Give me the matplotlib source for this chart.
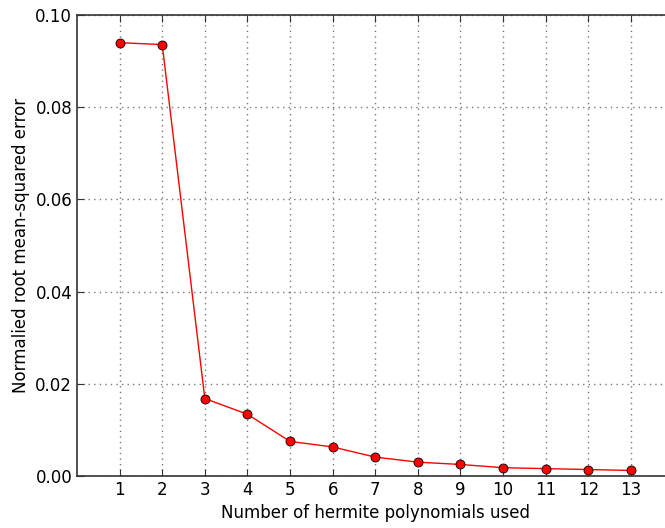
import numpy as np
import matplotlib
matplotlib.use('Agg')
import matplotlib.pyplot as plt

# rms error for increasing number of hermite terms
n_terms = [1, 2, 3, 4, 5, 6, 7, 8, 9, 10, 11, 12, 13]
rmse = [0.0940, 0.0936, 0.0168, 0.0134, 0.0075, 0.0063, 0.0041,
        0.0030, 0.0025, 0.0018, 0.0016, 0.0014, 0.0012]

fig = plt.figure(figsize=(6.65, 5.28), dpi=100)
ax = fig.add_axes([0.1158, 0.0985, 0.897, 0.873])

ax.plot(n_terms, rmse, color='red', lw=1, marker='o', ms=6.5,
        markerfacecolor='red', markeredgecolor='black', markeredgewidth=0.6)

ax.set_xlim(0, 14)
ax.set_ylim(0, 0.10)
ax.set_xticks(n_terms)
ax.set_yticks([0, 0.02, 0.04, 0.06, 0.08, 0.10])
ax.set_yticklabels(['0.00', '0.02', '0.04', '0.06', '0.08', '0.10'])
ax.tick_params(direction='in', top=True, right=True, labelsize=12,
               length=5, color='#333333')
ax.grid(True, color='#777777', linestyle=(0, (1, 3)), lw=1)
for sp in ax.spines.values():
    sp.set_color('#333333')
    sp.set_linewidth(1.2)

ax.set_xlabel('Number of hermite polynomials used', fontsize=12)
ax.set_ylabel('Normalied root mean-squared error', fontsize=12)

fig.savefig('out.png', dpi=100)
